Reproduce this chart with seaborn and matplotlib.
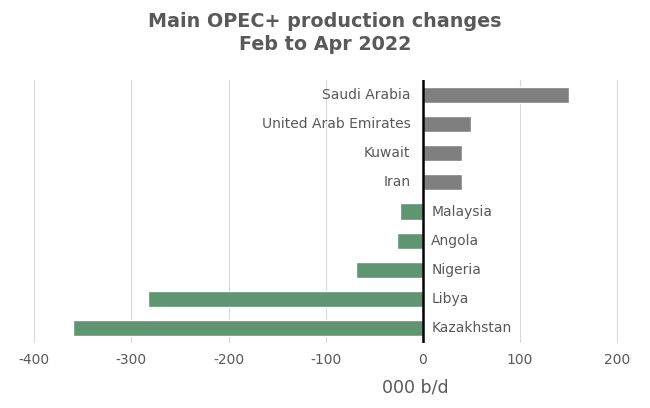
import matplotlib
matplotlib.use("Agg")
import matplotlib.pyplot as plt
import matplotlib.transforms as mtransforms
import seaborn as sns
import pandas as pd

countries = ["Saudi Arabia", "United Arab Emirates", "Kuwait", "Iran",
             "Malaysia", "Angola", "Nigeria", "Libya", "Kazakhstan"]
changes = [150, 50, 40, 40, -24, -27, -69, -283, -360]
xticks = [-400, -300, -200, -100, 0, 100, 200]

df = pd.DataFrame({"country": countries, "change": changes})
df["sign"] = ["up" if v >= 0 else "down" for v in df["change"]]

sns.set_theme(style="white")
plt.rcParams['font.family'] = ['DejaVu Sans']

text_col = "#595959"
fig = plt.figure(figsize=(6.5, 4.08), dpi=100)
ax = fig.add_axes([0.0303, 0.1593, 0.9415, 0.6446])

sns.barplot(data=df, x="change", y="country", hue="sign", orient="h",
            palette={"up": "#7f7f7f", "down": "#5f9571"}, dodge=False,
            width=0.55, legend=False, ax=ax, saturation=1)

ax.set_xlim(-415, 215)
ax.set_ylim(8.5, -0.5)
ax.set_xticks(xticks)
ax.set_xticklabels([str(t) for t in xticks], color=text_col, fontsize=10)
ax.tick_params(axis="x", length=0, pad=7)
ax.set_yticks([])
ax.set_ylabel("")
ax.set_xlabel("000 b/d", color=text_col, fontsize=12.5)
ax.xaxis.set_label_coords((415 - 19.7) / 612.0, -0.135)
ax.xaxis.grid(True, color="#d9d9d9", linewidth=0.8)
ax.set_axisbelow(True)
for s in ax.spines.values():
    s.set_visible(False)
ax.axvline(0, color="black", linewidth=1.8, zorder=5)

for i, (c, v) in enumerate(zip(countries, changes)):
    if v >= 0:
        tr = mtransforms.offset_copy(ax.transData, fig=fig, x=-9, y=0, units="points")
        ax.text(0, i, c, transform=tr, ha="right", va="center",
                color=text_col, fontsize=10)
    else:
        tr = mtransforms.offset_copy(ax.transData, fig=fig, x=6, y=0, units="points")
        ax.text(0, i, c, transform=tr, ha="left", va="center",
                color=text_col, fontsize=10)

fig.text(0.5, 0.97, "Main OPEC+ production changes\nFeb to Apr 2022",
         ha="center", va="top", fontsize=13.8, fontweight="bold",
         color=text_col, linespacing=1.25)

fig.savefig("out.png", dpi=100)
